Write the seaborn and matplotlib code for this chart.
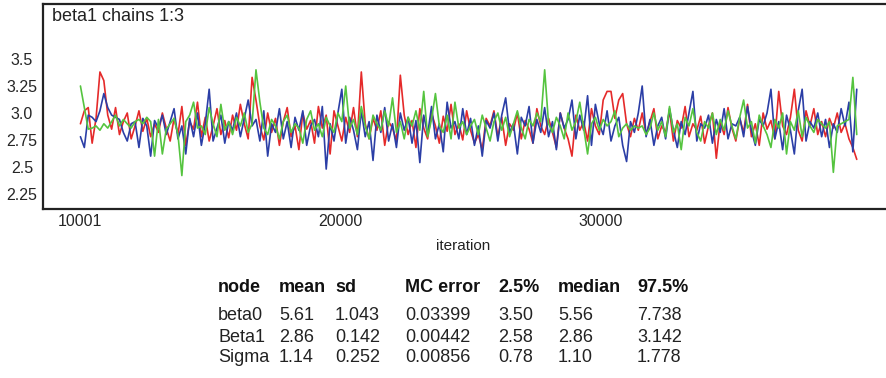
import numpy as np
import pandas as pd
import matplotlib
matplotlib.use("Agg")
import matplotlib.pyplot as plt
import seaborn as sns

# trace values (thinned, every 150 iterations from 10001)
chain1 = [2.90, 3.02, 3.05, 2.72, 2.95, 3.38, 3.30, 2.98, 2.85, 3.05, 2.80, 2.92, 3.00, 2.76, 2.88, 3.02, 2.83, 2.95, 2.78, 2.90,
          2.82, 3.00, 2.86, 2.74, 2.95, 2.80, 3.06, 2.70, 2.92, 2.85, 3.10, 2.78, 2.96, 2.74, 2.88, 3.04, 2.80, 2.93, 2.77, 2.98,
          2.84, 3.08, 2.90, 2.76, 3.33, 3.12, 2.88, 2.75, 3.00, 2.82, 2.95, 2.70, 2.92, 3.05, 2.78, 2.88, 2.66, 3.00, 2.85, 2.93,
          2.72, 3.06, 2.86, 2.98, 2.62, 3.02, 2.88, 2.74, 2.96, 2.82, 3.05, 2.78, 3.38, 2.90, 2.76, 2.95, 2.84, 3.02, 2.70, 2.92,
          2.86, 2.74, 3.35, 2.98, 2.80, 2.93, 2.68, 3.04, 2.86, 2.76, 3.00, 2.88, 2.72, 2.97, 2.83, 3.08, 2.80, 2.90, 2.75, 3.02,
          2.84, 2.72, 2.80, 2.66, 2.95, 2.88, 3.02, 2.78, 2.96, 2.70, 2.90, 2.84, 3.00, 2.76, 2.93, 2.85, 2.72, 3.04, 2.88, 2.80,
          2.95, 2.82, 2.68, 3.00, 2.86, 2.76, 2.60, 2.98, 2.84, 2.92, 2.74, 3.04, 2.88, 2.80, 3.12, 3.20, 3.20, 2.95, 3.12, 3.18,
          2.90, 2.78, 2.95, 2.84, 3.00, 2.80, 2.92, 3.04, 2.76, 2.88, 2.82, 3.02, 2.74, 2.93, 2.86, 3.06, 2.78, 2.90, 2.84, 2.97,
          2.72, 2.88, 3.00, 2.58, 2.92, 2.80, 3.05, 2.86, 2.74, 2.95, 2.82, 3.08, 2.78, 2.90, 2.70, 3.00, 2.85, 2.93, 2.76, 3.20,
          2.88, 2.80, 2.96, 3.22, 2.84, 2.74, 3.02, 2.88, 3.04, 2.80, 2.92, 2.78, 2.95, 2.86, 3.00, 2.82, 2.90, 2.76, 2.68, 2.57]
chain2 = [2.78, 2.68, 2.98, 2.96, 2.92, 3.02, 3.18, 3.05, 2.98, 2.96, 2.94, 2.82, 2.74, 2.90, 2.92, 2.68, 2.95, 2.88, 2.60, 2.93,
          2.86, 2.98, 2.80, 2.92, 3.04, 2.76, 2.88, 2.62, 2.95, 2.78, 3.00, 2.70, 2.90, 3.22, 2.74, 2.86, 2.98, 2.72, 2.92, 2.84,
          3.00, 2.78, 2.95, 3.12, 2.88, 2.94, 2.74, 3.02, 2.60, 2.90, 2.82, 3.04, 2.76, 2.92, 2.68, 2.96, 2.84, 3.02, 2.70, 2.88,
          2.94, 2.78, 3.06, 2.48, 2.90, 2.74, 3.00, 3.22, 2.72, 2.96, 2.84, 2.66, 3.02, 2.78, 2.92, 2.56, 2.98, 2.82, 3.05, 2.74,
          2.90, 2.68, 3.00, 2.84, 2.96, 2.72, 2.93, 2.54, 2.98, 2.80, 3.06, 2.76, 2.90, 2.64, 3.10, 2.86, 2.92, 2.76, 3.04, 2.80,
          2.95, 2.70, 2.88, 2.60, 2.93, 2.86, 3.00, 2.74, 2.98, 3.14, 2.82, 2.90, 2.62, 2.96, 2.88, 3.06, 2.72, 2.94, 2.82, 3.05,
          2.78, 2.92, 2.66, 3.00, 2.86, 2.94, 3.12, 2.76, 2.98, 2.84, 3.16, 2.70, 3.08, 2.90, 2.80, 3.02, 2.74, 2.88, 2.96, 2.70,
          2.55, 2.92, 2.82, 3.00, 3.25, 2.78, 2.94, 2.70, 2.88, 2.96, 2.76, 3.04, 2.84, 2.68, 2.92, 2.80, 3.00, 3.20, 2.74, 2.90,
          2.86, 2.98, 2.72, 2.94, 2.82, 3.04, 2.76, 2.90, 2.88, 2.96, 2.78, 3.06, 2.84, 2.70, 2.94, 2.88, 3.00, 3.22, 2.76, 2.92,
          2.66, 2.98, 2.84, 2.62, 3.02, 3.22, 2.74, 2.92, 2.86, 3.00, 2.78, 2.94, 2.68, 2.90, 2.82, 3.04, 2.88, 3.10, 2.64, 3.22]
chain3 = [3.25, 3.05, 2.85, 2.86, 2.88, 2.84, 2.90, 2.86, 2.92, 2.98, 2.88, 2.94, 2.90, 2.86, 2.92, 2.94, 2.90, 2.96, 2.92, 2.60,
          2.94, 2.62, 2.85, 2.90, 2.95, 2.80, 2.42, 2.92, 2.98, 3.10, 2.86, 2.88, 2.80, 3.05, 2.90, 2.78, 3.08, 2.84, 2.92, 2.80,
          2.96, 2.88, 3.00, 2.82, 2.90, 3.40, 3.10, 2.86, 2.80, 2.94, 2.88, 2.76, 2.92, 2.98, 2.82, 2.90, 2.86, 2.72, 2.94, 3.02,
          2.84, 2.90, 2.78, 2.96, 2.88, 2.82, 3.00, 2.92, 3.25, 2.86, 2.94, 2.80, 3.06, 2.88, 2.76, 2.98, 2.90, 2.84, 3.02, 2.88,
          3.14, 2.82, 2.92, 2.76, 2.96, 2.88, 3.02, 2.84, 3.20, 2.78, 2.94, 3.18, 2.88, 2.82, 2.98, 2.76, 3.10, 2.86, 2.92, 2.80,
          2.88, 2.94, 2.80, 2.98, 2.86, 2.74, 2.92, 3.00, 2.84, 2.96, 2.78, 2.90, 3.02, 2.86, 2.76, 2.94, 2.88, 3.00, 2.92, 3.40,
          2.90, 2.82, 2.96, 2.88, 2.76, 3.00, 2.84, 2.92, 3.10, 2.86, 2.62, 2.90, 2.96, 2.84, 2.94, 2.88, 2.92, 3.02, 2.78, 2.86,
          2.90, 2.84, 2.88, 2.86, 2.88, 2.80, 2.86, 3.00, 2.84, 2.92, 2.78, 3.06, 2.82, 2.90, 2.66, 2.96, 2.88, 3.04, 2.82, 2.74,
          2.92, 2.86, 3.00, 2.80, 2.94, 2.84, 3.02, 2.88, 2.76, 2.96, 3.12, 2.86, 2.92, 2.72, 2.98, 2.88, 2.80, 2.68, 2.94, 2.86,
          3.00, 2.62, 2.92, 2.84, 3.02, 2.78, 2.96, 2.88, 2.82, 2.94, 2.90, 2.86, 2.92, 2.45, 2.88, 2.90, 2.92, 2.94, 3.33, 2.80]

start_iter = 10001
thin = 150
x_ticks = [10001, 20000, 30000]
y_ticks = [2.25, 2.5, 2.75, 3.0, 3.25, 3.5]
y_tick_labels = ["2.25", "2.5", "2.75", "3.0", "3.25", "3.5"]

# summary table
header = ["node", "mean", "sd", "MC error", "2.5%", "median", "97.5%"]
nodes = ["beta0", "Beta1", "Sigma"]
means = ["5.61", "2.86", "1.14"]
sds = ["1.043", "0.142", "0.252"]
mc_errors = ["0.03399", "0.00442", "0.00856"]
q025 = ["3.50", "2.58", "0.78"]
medians = ["5.56", "2.86", "1.10"]
q975 = ["7.738", "3.142", "1.778"]

frames = []
for name, vals in [("1", chain1), ("2", chain2), ("3", chain3)]:
    frames.append(pd.DataFrame({
        "iteration": start_iter + thin * np.arange(len(vals)),
        "value": vals,
        "chain": name,
    }))
df = pd.concat(frames, ignore_index=True)

sns.set_style("white")
plt.rcParams["font.family"] = ["Liberation Sans", "DejaVu Sans"]

W, H = 886, 378
fig = plt.figure(figsize=(W / 100, H / 100), dpi=100)
ax = fig.add_axes([42.7 / W, 1 - 209 / H, (W - 42.7 + 10) / W, 205 / H])

sns.lineplot(data=df, x="iteration", y="value", hue="chain",
             palette={"1": "#e52a2a", "2": "#2b3ea6", "3": "#55c43f"},
             linewidth=1.2, legend=False, ax=ax, estimator=None, sort=False)

ax.set_xlim(8550, 41360)
ax.set_ylim(2.11, 4.01)
ax.set_xticks(x_ticks)
ax.set_xticklabels([str(t) for t in x_ticks], fontsize=11.5)
ax.set_yticks(y_ticks)
ax.set_yticklabels(y_tick_labels, fontsize=11.5, ha="center")
ax.tick_params(axis="y", length=0, pad=14.9)
ax.tick_params(axis="x", length=0, pad=3.5)
ax.set_xlabel("")
ax.set_ylabel("")
for s in ax.spines.values():
    s.set_color("#222222")
    s.set_linewidth(1.6)

ax.text(52 / (W - 42.7 + 10) * 1 - 42.7 / (W - 42.7 + 10), 0.94, "beta1 chains 1:3",
        transform=ax.transAxes, fontsize=13, va="center", ha="left", color="#222222")

fig.text(463 / W, 1 - 246 / H, "iteration", fontsize=11, ha="center", va="center", color="#222222")

col_x = [218, 279, 335, 405, 498, 558, 637]
row_y = [288, 315, 337, 358]
for cx, h in zip(col_x, header):
    fig.text(cx / W, 1 - row_y[0] / H, h, fontsize=13, fontweight="bold",
             ha="left", va="center", color="#111111")
columns = [nodes, means, sds, mc_errors, q025, medians, q975]
for cx, col in zip(col_x, columns):
    for ry, val in zip(row_y[1:], col):
        fig.text(cx / W, 1 - ry / H, val, fontsize=13, ha="left", va="center", color="#222222")

fig.savefig("out.png", dpi=100)
